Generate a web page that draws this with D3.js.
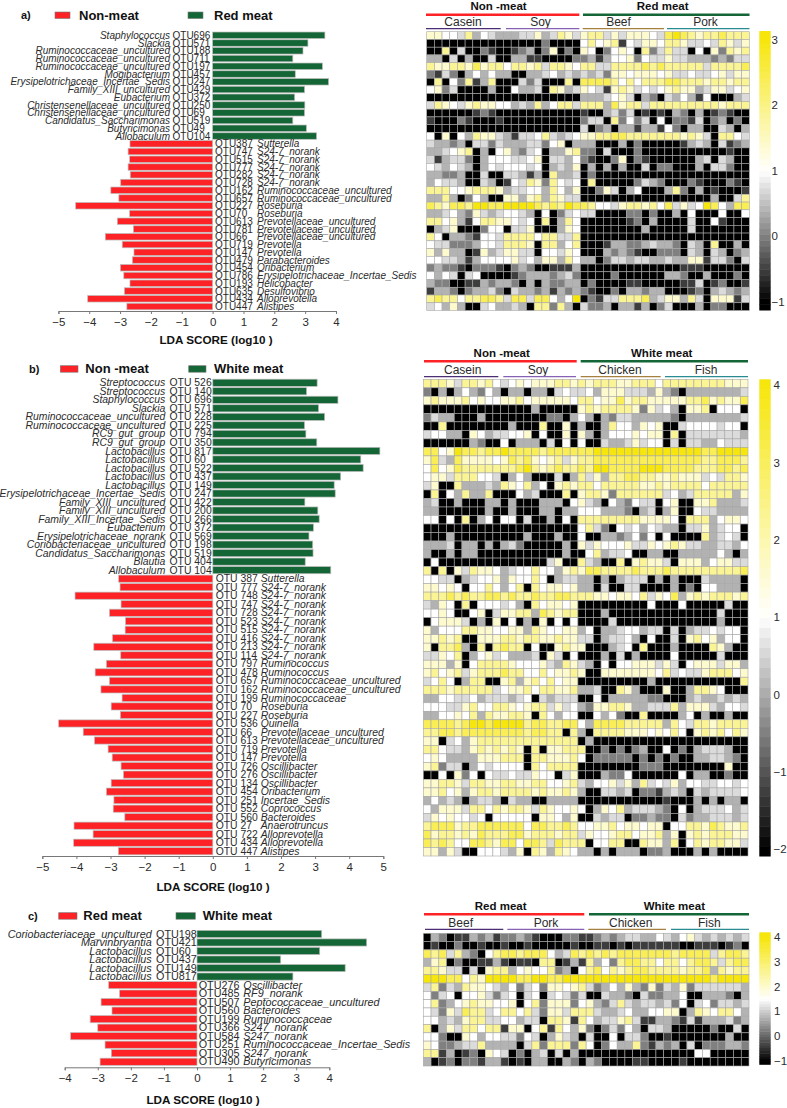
<!DOCTYPE html>
<html>
<head>
<meta charset="utf-8">
<script src="https://cdn.jsdelivr.net/npm/d3@7/dist/d3.min.js"></script>
<style>
  html, body { margin: 0; padding: 0; background: #fff; }
  text { font-family: "Liberation Sans", Arial, sans-serif; fill: #2b2b2b; }
  .bold { font-weight: bold; fill: #111; }
  .axis path, .axis line { stroke: #777; }
</style>
</head>
<body>
<div id="chart"></div>
<script>
// panel a) non-meat vs red meat
const aUpGenus = ['Staphylococcus', 'Slackia', 'Ruminococcaceae_uncultured', 'Ruminococcaceae_uncultured', 'Ruminococcaceae_uncultured', 'Mogibacterium', 'Erysipelotrichaceae_Incertae_Sedis', 'Family_XIII_uncultured', 'Eubacterium', 'Christensenellaceae_uncultured', 'Christensenellaceae_uncultured', 'Candidatus_Saccharimonas', 'Butyricimonas', 'Allobaculum'];
const aUpOtu = ['OTU696', 'OTU571', 'OTU188', 'OTU711', 'OTU197', 'OTU457', 'OTU247', 'OTU429', 'OTU372', 'OTU250', 'OTU69', 'OTU519', 'OTU49', 'OTU104'];
const aUpScore = [3.64, 3.09, 2.93, 2.6, 3.56, 2.68, 3.76, 2.98, 2.66, 2.99, 2.98, 2.6, 3.04, 3.37];
const aDownOtu = ['OTU387', 'OTU747', 'OTU515', 'OTU777', 'OTU282', 'OTU728', 'OTU162', 'OTU657', 'OTU227', 'OTU70', 'OTU613', 'OTU781', 'OTU66', 'OTU719', 'OTU147', 'OTU479', 'OTU454', 'OTU786', 'OTU193', 'OTU635', 'OTU434', 'OTU447'];
const aDownGenus = ['Sutterella', 'S24-7_norank', 'S24-7_norank', 'S24-7_norank', 'S24-7_norank', 'S24-7_norank', 'Ruminococcaceae_uncultured', 'Ruminococcaceae_uncultured', 'Roseburia', 'Roseburia', 'Prevotellaceae_uncultured', 'Prevotellaceae_uncultured', 'Prevotellaceae_uncultured', 'Prevotella', 'Prevotella', 'Parabacteroides', 'Oribacterium', 'Erysipelotrichaceae_Incertae_Sedis', 'Helicobacter', 'Desulfovibrio', 'Alloprevotella', 'Alistipes'];
const aDownScore = [-2.68, -2.74, -2.69, -2.74, -2.67, -2.98, -3.3, -3.04, -4.44, -2.69, -3.09, -2.57, -3.48, -2.93, -2.55, -2.6, -2.99, -2.88, -2.68, -2.86, -4.05, -2.78];

// panel b) non-meat vs white meat
const bUpGenus = ['Streptococcus', 'Streptococcus', 'Staphylococcus', 'Slackia', 'Ruminococcaceae_uncultured', 'Ruminococcaceae_uncultured', 'RC9_gut_group', 'RC9_gut_group', 'Lactobacillus', 'Lactobacillus', 'Lactobacillus', 'Lactobacillus', 'Lactobacillus', 'Erysipelotrichaceae_Incertae_Sedis', 'Family_XIII_uncultured', 'Family_XIII_uncultured', 'Family_XIII_Incertae_Sedis', 'Eubacterium', 'Erysipelotrichaceae_norank', 'Coriobacteriaceae_uncultured', 'Candidatus_Saccharimonas', 'Blautia', 'Allobaculum'];
const bUpOtu = ['OTU 526', 'OTU 140', 'OTU 696', 'OTU 571', 'OTU 228', 'OTU 225', 'OTU 794', 'OTU 350', 'OTU 817', 'OTU 60', 'OTU 522', 'OTU 437', 'OTU 149', 'OTU 247', 'OTU 422', 'OTU 200', 'OTU 266', 'OTU 372', 'OTU 569', 'OTU 198', 'OTU 519', 'OTU 404', 'OTU 104'];
const bUpScore = [3.06, 2.75, 3.67, 3.1, 3.28, 2.69, 2.73, 3.05, 4.9, 4.34, 4.41, 3.75, 3.56, 3.59, 2.7, 3.08, 3.12, 2.95, 2.82, 2.93, 2.94, 2.71, 3.46];
const bDownOtu = ['OTU 387', 'OTU 777', 'OTU 748', 'OTU 747', 'OTU 728', 'OTU 523', 'OTU 515', 'OTU 416', 'OTU 213', 'OTU 114', 'OTU 797', 'OTU 478', 'OTU 657', 'OTU 162', 'OTU 199', 'OTU 70', 'OTU 227', 'OTU 536', 'OTU 66', 'OTU 613', 'OTU 719', 'OTU 147', 'OTU 726', 'OTU 276', 'OTU 134', 'OTU 454', 'OTU 251', 'OTU 552', 'OTU 560', 'OTU 27', 'OTU 722', 'OTU 434', 'OTU 447'];
const bDownGenus = ['Sutterella', 'S24-7_norank', 'S24-7_norank', 'S24-7_norank', 'S24-7_norank', 'S24-7_norank', 'S24-7_norank', 'S24-7_norank', 'S24-7_norank', 'S24-7_norank', 'Ruminococcus', 'Ruminococcus', 'Ruminococcaceae_uncultured', 'Ruminococcaceae_uncultured', 'Ruminococcaceae', 'Roseburia', 'Roseburia', 'Quinella', 'Prevotellaceae_uncultured', 'Prevotellaceae_uncultured', 'Prevotella', 'Prevotella', 'Oscillibacter', 'Oscillibacter', 'Oscillibacter', 'Oribacterium', 'Incertae_Sedis', 'Coprococcus', 'Bacteroides', 'Anaerotruncus', 'Alloprevotella', 'Alloprevotella', 'Alistipes'];
const bDownScore = [-2.76, -2.72, -4.04, -2.69, -3.03, -2.56, -2.57, -2.94, -3.49, -2.7, -3.12, -3.45, -3.03, -3.28, -2.66, -2.98, -2.71, -4.52, -3.8, -3.47, -3.07, -2.95, -2.69, -2.62, -2.98, -3.12, -2.9, -2.92, -2.58, -4.07, -3.51, -4.08, -2.77];

// panel c) red meat vs white meat
const cUpGenus = ['Coriobacteriaceae_uncultured', 'Marvinbryantia', 'Lactobacillus', 'Lactobacillus', 'Lactobacillus', 'Lactobacillus'];
const cUpOtu = ['OTU198', 'OTU421', 'OTU60', 'OTU437', 'OTU149', 'OTU817'];
const cUpScore = [3.77, 5.13, 3.71, 2.53, 4.48, 2.9];
const cDownOtu = ['OTU276', 'OTU485', 'OTU507', 'OTU560', 'OTU199', 'OTU366', 'OTU584', 'OTU251', 'OTU305', 'OTU490'];
const cDownGenus = ['Oscillibacter', 'RF9_norank', 'Peptococcaceae_uncultured', 'Bacteroides', 'Ruminococcaceae', 'S247_norank', 'S247_norank', 'Ruminococcaceae_Incertae_Sedis', 'S247_norank', 'Butyricimonas'];
const cDownScore = [-2.67, -2.34, -2.9, -2.57, -3.23, -3.0, -3.82, -2.78, -2.59, -2.93];

// heatmap cells, one digit per cell, 0 = black end,
// 5 = white middle, 9 = yellow end of each colour bar
const cellLevels = [0, 0.12, 0.25, 0.35, 0.43, 0.5, 0.6, 0.72, 0.85, 1];

const aHeat = [
  '6655473543 3344634764 67746466654 89876778777',
  '0000000000 0000020000 57567154665 77644547646',
  '0070400210 0123026020 65025650724 74405062767',
  '3304030040 0331100002 23135562544 64433323244',
  '7667768677 5776747765 77447777878 77777477778',
  '2142035353 3003345343 43426656665 64454456466',
  '0705271370 0042400070 88887575777 88777677677',
  '5624000030 0533407634 65416764545 67663466456',
  '0000000000 0000000000 33345640320 43531500034',
  '4765467665 5343735774 77738677477 77777776777',
  '0000001210 0000000000 10034240101 03203012100',
  '1000210001 0000000000 24407252405 02214023020',
  '0000000000 0000000000 40230331331 52033004303',
  '5060537664 3144574345 66778877777 77676407754',
  '4332304424 3334425603 33000302000 00134304123',
  '3345670305 6324503367 22040002000 00000000100',
  '4134420355 5445604435 21002602100 00003404300',
  '5435430354 5554503436 03030300402 20003044200',
  '3322300400 4431307334 02000000000 00000000000',
  '3544300430 1547627545 07000002432 00021000210',
  '7775567776 3445537536 00264035000 37203010001',
  '3373025300 6636737644 00000000000 00000030047',
  '8768879988 9999878798 87554677675 84645985388',
  '3345326434 5543050245 44000022020 03050005005',
  '7756315776 6545070375 00000012030 00040051000',
  '0346000255 0446000365 00000000300 00040000000',
  '7503321554 7777577447 00000000000 00000000000',
  '5442223554 7776077357 00013322343 32043070030',
  '6363301634 6644055465 00032321002 22043043023',
  '5544313555 5645366375 33024434433 43366144204',
  '2322102221 0232001113 00000000000 00111000000',
  '5354045000 0123332342 00002000000 33200300020',
  '3220011323 3203032233 02000011000 00114012001',
  '1332023342 0433231323 21002033233 00012034323',
  '7877577887 4884885359 02144777834 66374066614',
  '4536300453 3430772730 42230331302 40003022000'
];

const bHeat = [
  '7776477675 4565666776 76777667775 77777777666',
  '2030353253 0330330454 45366644436 32033333334',
  '6766675655 6675666665 77566867766 66677867668',
  '0000000000 0000300000 67677776264 53066705550',
  '2433000300 0000002203 53032443333 32033333334',
  '0070000000 0300070060 30037553656 00455554550',
  '4553306534 4556050060 63035556566 07044444443',
  '0000003200 5033304050 50043346455 04044335444',
  '8856988788 9888878888 88999999999 99999889999',
  '6843866665 6878656746 77888888888 88888778887',
  '5856877777 7789767877 87998888999 88887778878',
  '5664777554 0353000403 74637788776 67666454776',
  '4600733343 7657350676 77577777667 67777577777',
  '0705373370 0053400070 67762777777 45347777736',
  '3400300033 0300033305 64305325440 56006673334',
  '3300000030 0300033033 55533320340 36005443333',
  '5505070350 5504003050 77777777666 65077735665',
  '0000000000 0000000000 57420545354 33044634550',
  '0003000000 0003000300 50033235250 50000734540',
  '3334033030 3420000030 64655564465 67644334435',
  '3003033000 0000000030 05734450033 00333335303',
  '0500000000 0000004600 74300706766 40666356644',
  '7070647665 3455755367 68877778777 87777777778',
  '5544034556 3655750344 33030344403 03000433330',
  '6656505575 3570756656 33040044000 03020553330',
  '7778787788 7877877887 77665665746 58367677767',
  '4365070555 4530756656 00000000050 00500000400',
  '5565005604 6677387677 00030000000 00000004000',
  '0566640306 0503060505 00004000000 00000003000',
  '6355577665 5663765566 35033455344 04034454550',
  '6676700666 7767766766 44034453050 04067563550',
  '6077830707 8770500676 60003450700 03000076300',
  '4465703564 5333406405 00030403000 05000004000',
  '6663605777 7655564376 43050556664 64056664663',
  '6756746777 8775575667 60066666665 74544677756',
  '4575037700 6736757566 00000000030 00000000007',
  '7776777774 5667577667 33400763000 60037765000',
  '3355445344 4345043444 00503333322 00034334343',
  '5554467557 7656774645 32667763344 47366643554',
  '3355657376 6776075355 00535200700 00350300300',
  '8888789989 9997887788 53888877777 37547767777',
  '7788788888 8887887707 30777766656 57506767576',
  '6604536777 7777777777 03000000000 00000000000',
  '7754436767 6760706677 70020202300 50203444300',
  '5653333666 7770776667 50222220202 02003344320',
  '6724403545 5550757777 00000000222 00000000600',
  '0050625054 4544655046 00032250000 00503300200',
  '6677647766 7766775567 43556463745 46355445545',
  '6675636776 7777676676 30044340221 34304344445',
  '3534303443 0433003333 00000000000 10003030330',
  '5366647757 6776476556 50365734443 20503444534',
  '4656554505 5555066536 00434402232 20423344434',
  '7888677888 8885887787 55667566566 05577687667',
  '8677676877 7886777677 46556775667 36067677766',
  '8787558876 8858874877 70557700766 37057677664',
  '6636400555 4360763765 33030333022 30003030000'
];

const cHeat = [
  '032011323122321000221 123234433543564343434',
  '010020010010010000010 011010111111001110120',
  '878473205788788853487 878788888887888847887',
  '367020011310110770131 735278877577578874788',
  '776440406773565572305 785767887777677837677',
  '999885769999889988999 999999999999999989999',
  '472437665435245266567 423536326243624444443',
  '524505564245045045424 004332042233500333203',
  '572356766556057266625 632474344342504524434',
  '542648774577574266477 743345335566037657753',
  '553436774455344077617 534467411332141333423',
  '703647757716605717536 202425304430000020040',
  '552006535544254036430 400504420010000000300',
  '652234473333047277727 502533721323040222332',
  '771301206540203404030 000000000000005500000',
  '301202213310103300320 320000110000100000000'
];

const axisTicksA = [-5, -4, -3, -2, -1, 0, 1, 2, 3, 4];
const axisTicksB = [-5, -4, -3, -2, -1, 0, 1, 2, 3, 4, 5];
const axisTicksC = [-4, -3, -2, -1, 0, 1, 2, 3, 4];
const barTicksA = [3, 2, 1, 0, -1];
const barTicksB = [4, 3, 2, 1, 0, -1, -2];
const barTicksC = [4, 3, 2, 1, 0, -1];

const RED = '#fd2226';
const GREEN = '#146636';
const YELLOW = '#f6e60c';

const svg = d3.select('#chart')
  .append('svg')
  .attr('width', 787)
  .attr('height', 1108);

const drawBars = (p) => {
  const rows = [
    ...p.upScore.map((s, i) => ({ score: s, genus: p.upGenus[i], otu: p.upOtu[i] })),
    ...p.downScore.map((s, i) => ({ score: s, genus: p.downGenus[i], otu: p.downOtu[i] })),
  ];

  const x = d3.scaleLinear().domain(p.xDomain).range(p.xRange);
  const y = d3.scaleBand()
    .domain(d3.range(rows.length))
    .range(p.yRange)
    .paddingInner(0.16)
    .paddingOuter(0.08);

  const g = svg.append('g');

  g.selectAll('rect.bar')
    .data(rows)
    .join('rect')
    .attr('class', 'bar')
    .attr('x', d => Math.min(x(0), x(d.score)))
    .attr('y', (d, i) => y(i))
    .attr('width', d => Math.abs(x(d.score) - x(0)))
    .attr('height', y.bandwidth())
    .attr('fill', d => (d.score > 0 ? GREEN : RED))
    .attr('stroke', '#bdbdbd')
    .attr('stroke-width', 0.7);

  // up bars have "genus OTU" to the left of zero, down bars "OTU genus" to the right
  g.selectAll('text.genus')
    .data(rows)
    .join('text')
    .attr('class', 'genus')
    .attr('x', d => (d.score > 0 ? p.upGenusX : p.downGenusX))
    .attr('y', (d, i) => y(i) + y.bandwidth() / 2 + 3.6)
    .attr('text-anchor', d => (d.score > 0 ? 'end' : 'start'))
    .attr('font-style', 'italic')
    .attr('font-size', p.labelSize)
    .text(d => d.genus);

  g.selectAll('text.otu')
    .data(rows)
    .join('text')
    .attr('class', 'otu')
    .attr('x', d => (d.score > 0 ? p.upOtuX : p.downOtuX))
    .attr('y', (d, i) => y(i) + y.bandwidth() / 2 + 3.6)
    .attr('font-size', p.labelSize)
    .text(d => d.otu);

  const axis = d3.axisBottom(x)
    .tickValues(p.ticks)
    .tickSize(3)
    .tickPadding(4)
    .tickFormat(d3.format('d'));

  const axisG = g.append('g')
    .attr('class', 'axis')
    .attr('transform', `translate(0, ${p.axisY})`)
    .call(axis);
  axisG.selectAll('text')
    .attr('font-size', 11.5)
    .style('font-family', '"Liberation Sans", Arial, sans-serif');

  g.append('text')
    .attr('class', 'bold')
    .attr('x', p.titleX)
    .attr('y', p.titleY)
    .attr('text-anchor', 'middle')
    .attr('font-size', 11.7)
    .text('LDA SCORE (log10 )');

  // legend row
  g.append('text').attr('class', 'bold').attr('x', p.letterX).attr('y', p.legendY + 4).attr('font-size', 11).text(p.letter);
  [[p.redBox, RED, p.redName], [p.greenBox, GREEN, p.greenName]].forEach(([lx, colour, name]) => {
    g.append('rect')
      .attr('x', lx[0]).attr('y', p.legendY - 3)
      .attr('width', lx[1]).attr('height', 6.5)
      .attr('fill', colour).attr('stroke', '#777').attr('stroke-width', 0.6);
    g.append('text').attr('class', 'bold')
      .attr('x', lx[2]).attr('y', p.legendY + 4.5)
      .attr('font-size', 13).text(name);
  });
};

const drawHeat = (p) => {
  const matrix = p.cells.map(r => Array.from(r.replace(/ /g, ''), Number));
  const [lo, mid, hi] = p.colourDomain;
  const colour = d3.scaleLinear()
    .domain([lo, mid, hi])
    .range(['#000000', '#ffffff', YELLOW])
    .clamp(true);
  const levelValue = d => lo + cellLevels[d] * (hi - lo);

  const x = d3.scaleBand().domain(d3.range(matrix[0].length)).range(p.xRange);
  const y = d3.scaleBand().domain(d3.range(matrix.length)).range(p.yRange);

  const g = svg.append('g');

  g.selectAll('g.row')
    .data(matrix)
    .join('g')
    .attr('class', 'row')
    .attr('transform', (d, i) => `translate(0, ${y(i)})`)
    .selectAll('rect')
    .data(d => d)
    .join('rect')
    .attr('x', (d, i) => x(i))
    .attr('width', x.bandwidth())
    .attr('height', y.bandwidth())
    .attr('fill', d => colour(levelValue(d)))
    .attr('stroke', '#a8a8a8')
    .attr('stroke-width', 0.6);

  // group headers and their rules
  p.groups.forEach((h) => {
    g.append('text').attr('class', 'bold')
      .attr('x', h.cx).attr('y', p.groupTextY)
      .attr('text-anchor', 'middle').attr('font-size', 11.5).text(h.name);
    g.append('line')
      .attr('x1', h.x0).attr('x2', h.x1)
      .attr('y1', p.groupLineY).attr('y2', p.groupLineY)
      .attr('stroke', h.colour).attr('stroke-width', 2.6);
  });
  p.subgroups.forEach((h) => {
    g.append('text')
      .attr('x', h.cx).attr('y', p.subTextY)
      .attr('text-anchor', 'middle').attr('font-size', 12).text(h.name);
    g.append('line')
      .attr('x1', h.x0).attr('x2', h.x1)
      .attr('y1', p.subLineY).attr('y2', p.subLineY)
      .attr('stroke', h.colour).attr('stroke-width', 1.3);
  });

  // colour bar
  const barY = d3.scaleLinear().domain(p.barDomain).range(p.barRange);
  const steps = d3.range(p.barDomain[0], p.barDomain[1], (p.barDomain[1] - p.barDomain[0]) / 48);
  const stepH = Math.abs(barY(steps[1]) - barY(steps[0]));
  g.selectAll('rect.step')
    .data(steps)
    .join('rect')
    .attr('class', 'step')
    .attr('x', 759.3)
    .attr('y', d => barY(d) - stepH)
    .attr('width', 11.4)
    .attr('height', stepH + 0.5)
    .attr('fill', d => colour(d + (p.barDomain[1] - p.barDomain[0]) / 96));
  g.selectAll('text.tick')
    .data(p.barTicks)
    .join('text')
    .attr('class', 'tick')
    .attr('x', p.barTickX)
    .attr('y', d => barY(d) + 4)
    .attr('font-size', 11.5)
    .text(d => (d < 0 ? `\u2212${-d}` : d));
};

drawBars({
  upGenus: aUpGenus, upOtu: aUpOtu, upScore: aUpScore,
  downGenus: aDownGenus, downOtu: aDownOtu, downScore: aDownScore,
  xDomain: [-5, 4], xRange: [58.4, 336], yRange: [31.4, 310.4], ticks: axisTicksA,
  upGenusX: 170, upOtuX: 172.5, downOtuX: 215, downGenusX: 257, labelSize: 10,
  axisY: 311, titleX: 216, titleY: 344,
  letter: 'a)', letterX: 21, legendY: 15,
  redBox: [55, 15, 79], greenBox: [188, 15, 214], redName: 'Non-meat', greenName: 'Red meat',
});

drawHeat({
  cells: aHeat, xRange: [426.7, 749.3], yRange: [31.7, 310.5],
  colourDomain: [-1, 1, 3],
  barDomain: [-1.13, 3.14], barRange: [310, 31], barTicks: barTicksA, barTickX: 771.5,
  groupTextY: 9.5, groupLineY: 14.7, subTextY: 26, subLineY: 28.7,
  groups: [
    { name: 'Non -meat', cx: 498.5, x0: 426, x1: 579.3, colour: RED },
    { name: 'Red meat', cx: 662.7, x0: 583, x1: 749.5, colour: GREEN },
  ],
  subgroups: [
    { name: 'Casein', cx: 463, x0: 426, x1: 500.7, colour: '#4b2e73' },
    { name: 'Soy', cx: 540.5, x0: 506, x1: 579.3, colour: '#8762b4' },
    { name: 'Beef', cx: 618.5, x0: 582.7, x1: 664, colour: '#a5803f' },
    { name: 'Pork', cx: 705.5, x0: 667, x1: 749.5, colour: '#2a8b93' },
  ],
});

drawBars({
  upGenus: bUpGenus, upOtu: bUpOtu, upScore: bUpScore,
  downGenus: bDownGenus, downOtu: bDownOtu, downScore: bDownScore,
  xDomain: [-5, 5], xRange: [42.3, 383.3], yRange: [378.5, 855.5], ticks: axisTicksB,
  upGenusX: 165.3, upOtuX: 169.5, downOtuX: 215.7, downGenusX: 260.7, labelSize: 10.4,
  axisY: 856, titleX: 213, titleY: 891,
  letter: 'b)', letterX: 29, legendY: 368.7,
  redBox: [60.3, 17.7, 85.3], greenBox: [188.7, 17.3, 214], redName: 'Non -meat', greenName: 'White meat',
});

drawHeat({
  cells: bHeat, xRange: [423.3, 748], yRange: [379.3, 856],
  colourDomain: [-2, 1, 4],
  barDomain: [-2.09, 4.08], barRange: [856, 379.3], barTicks: barTicksB, barTickX: 773.5,
  groupTextY: 357, groupLineY: 361.3, subTextY: 374, subLineY: 376.7,
  groups: [
    { name: 'Non -meat', cx: 501.7, x0: 424, x1: 576.7, colour: RED },
    { name: 'White meat', cx: 661.7, x0: 580.7, x1: 748, colour: GREEN },
  ],
  subgroups: [
    { name: 'Casein', cx: 462.7, x0: 424, x1: 498.3, colour: '#4b2e73' },
    { name: 'Soy', cx: 538, x0: 503.3, x1: 576, colour: '#8762b4' },
    { name: 'Chicken', cx: 620, x0: 580.7, x1: 660.7, colour: '#a5803f' },
    { name: 'Fish', cx: 706, x0: 665, x1: 748, colour: '#2a8b93' },
  ],
});

drawBars({
  upGenus: cUpGenus, upOtu: cUpOtu, upScore: cUpScore,
  downGenus: cDownGenus, downOtu: cDownOtu, downScore: cDownScore,
  xDomain: [-4, 4], xRange: [64.7, 329.3], yRange: [929.7, 1066], ticks: axisTicksC,
  upGenusX: 151.7, upOtuX: 156, downOtuX: 198.7, downGenusX: 243.3, labelSize: 10.8,
  axisY: 1067.3, titleX: 203, titleY: 1104,
  letter: 'c)', letterX: 28, legendY: 915.7,
  redBox: [58.7, 18.3, 83.3], greenBox: [176, 19.3, 202.7], redName: 'Red meat', greenName: 'White meat',
});

drawHeat({
  cells: cHeat, xRange: [423.3, 749], yRange: [933.3, 1066],
  colourDomain: [-1, 1.5, 4],
  barDomain: [-1.15, 4.2], barRange: [1064.3, 932.3], barTicks: barTicksC, barTickX: 774,
  groupTextY: 910, groupLineY: 914.3, subTextY: 927, subLineY: 929.3,
  groups: [
    { name: 'Red meat', cx: 500.7, x0: 424, x1: 584.3, colour: RED },
    { name: 'White meat', cx: 674.3, x0: 589, x1: 749, colour: GREEN },
  ],
  subgroups: [
    { name: 'Beef', cx: 460.7, x0: 425, x1: 503.3, colour: '#4b2e73' },
    { name: 'Pork', cx: 546, x0: 507.3, x1: 584.3, colour: '#8762b4' },
    { name: 'Chicken', cx: 630.7, x0: 588.3, x1: 666, colour: '#a5803f' },
    { name: 'Fish', cx: 709.3, x0: 671, x1: 749, colour: '#2a8b93' },
  ],
});
</script>
</body>
</html>
